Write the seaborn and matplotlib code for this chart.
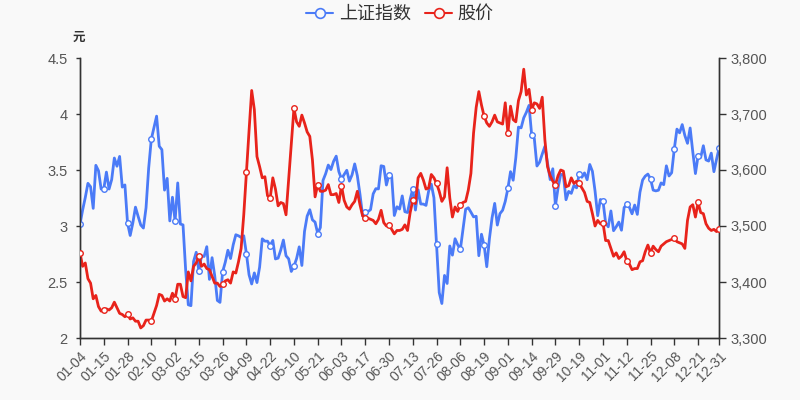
import numpy as np
import pandas as pd
import matplotlib
matplotlib.use("Agg")
import matplotlib.pyplot as plt
import seaborn as sns
from matplotlib.lines import Line2D

# ---- trading calendar (2021, Shanghai exchange closures) ----
holidays = ["2021-02-11", "2021-02-12", "2021-02-15", "2021-02-16", "2021-02-17",
            "2021-04-05", "2021-05-03", "2021-05-04", "2021-05-05", "2021-06-14",
            "2021-09-20", "2021-09-21", "2021-10-01", "2021-10-04", "2021-10-05",
            "2021-10-06", "2021-10-07"]

# ---- 上证指数 (right axis) ----
sse_jan = [3502.96, 3528.68, 3550.88, 3576.20, 3570.11, 3531.50, 3608.34, 3598.65, 3565.90, 3566.38,
           3596.22, 3566.0, 3583.0, 3621.39, 3606.75, 3624.24, 3569.43, 3573.34, 3505.18, 3483.07]
sse_feb = [3505.28, 3533.68, 3517.31, 3501.86, 3496.33, 3532.44, 3603.49, 3655.09, 3675.36, 3696.17,
           3642.44, 3636.36, 3564.08, 3585.05, 3509.08]
sse_mar = [3551.40, 3508.59, 3576.90, 3503.49, 3501.99, 3421.41, 3359.29, 3357.74, 3436.83, 3453.08,
           3419.95, 3446.73, 3445.55, 3463.07, 3404.66, 3443.44, 3411.51, 3367.06, 3363.59, 3418.33,
           3435.30, 3456.68, 3441.91]
sse_apr = [3466.33, 3484.39, 3482.48, 3479.63, 3482.55, 3450.68, 3412.95, 3396.47, 3416.21, 3398.99,
           3426.62, 3477.07, 3472.94, 3472.93, 3465.11, 3474.17, 3441.17, 3442.61, 3457.07, 3474.90,
           3446.86]
sse_may = [3441.28, 3418.87, 3427.99, 3441.85, 3462.75, 3429.54, 3490.38, 3517.62, 3529.01, 3510.96,
           3506.94, 3486.56, 3497.28, 3581.34, 3593.36, 3608.85, 3600.78, 3615.48]
sse_jun = [3624.71, 3597.14, 3584.22, 3591.84, 3599.54, 3580.11, 3591.40, 3610.86, 3589.75, 3556.56,
           3518.33, 3525.10, 3525.60, 3529.18, 3557.41, 3566.65, 3566.22, 3607.56, 3606.37, 3573.18,
           3591.20]
sse_jul = [3588.78, 3518.76, 3534.32, 3530.26, 3553.72, 3525.50, 3524.09, 3547.84, 3566.64, 3528.50,
           3564.59, 3539.30, 3539.12, 3536.79, 3562.60, 3574.73, 3550.40, 3467.44, 3381.18, 3361.59,
           3411.72, 3397.36]
sse_aug = [3464.29, 3447.99, 3477.22, 3466.56, 3458.23, 3494.63, 3529.93, 3532.62, 3524.74, 3516.30,
           3517.34, 3446.98, 3485.29, 3465.55, 3427.33, 3477.13, 3514.47, 3540.38, 3501.66, 3522.16,
           3528.15, 3543.94]
sse_sep = [3567.10, 3597.04, 3581.73, 3621.86, 3676.59, 3675.19, 3693.13, 3703.11, 3715.37, 3662.60,
           3656.22, 3607.09, 3613.97, 3628.49, 3642.22, 3613.07, 3582.83, 3602.22, 3536.29, 3568.17]
sse_oct = [3592.17, 3591.71, 3546.94, 3561.76, 3558.28, 3572.37, 3568.14, 3593.15, 3587.00, 3594.78,
           3582.60, 3609.86, 3597.64, 3562.31, 3518.42, 3547.34]
sse_nov = [3544.48, 3505.63, 3498.54, 3526.87, 3491.57, 3498.63, 3507.00, 3492.46, 3532.79, 3539.10,
           3533.30, 3521.79, 3537.37, 3520.71, 3560.37, 3582.08, 3589.09, 3592.70, 3584.18, 3564.09,
           3562.70, 3563.89]
sse_dec = [3576.89, 3573.84, 3607.43, 3589.31, 3595.09, 3637.57, 3673.04, 3666.35, 3681.08, 3661.53,
           3647.63, 3675.02, 3632.36, 3593.60, 3625.13, 3622.62, 3643.34, 3618.05, 3615.97, 3630.11,
           3597.00, 3619.19, 3639.78]

# ---- 股价 (left axis, 元) ----
px_jan = [2.76, 2.64, 2.67, 2.53, 2.49, 2.35, 2.38, 2.28, 2.24, 2.25, 2.26, 2.25, 2.27, 2.32, 2.27,
          2.22, 2.21, 2.19, 2.21, 2.17]
px_feb = [2.18, 2.15, 2.15, 2.09, 2.11, 2.16, 2.16, 2.15, 2.22, 2.29, 2.39, 2.38, 2.33, 2.35, 2.33]
px_mar = [2.40, 2.35, 2.48, 2.48, 2.37, 2.36, 2.59, 2.51, 2.64, 2.67, 2.73, 2.64, 2.66, 2.62, 2.61,
          2.55, 2.49, 2.49, 2.46, 2.48, 2.51, 2.52, 2.49]
px_apr = [2.59, 2.58, 2.68, 2.80, 3.10, 3.48, 3.85, 4.21, 4.04, 3.62, 3.53, 3.43, 3.44, 3.27, 3.25,
          3.43, 3.33, 3.18, 3.21, 3.20, 3.10]
px_may = [3.42, 3.75, 4.05, 3.93, 3.89, 3.99, 3.92, 3.84, 3.80, 3.59, 3.26, 3.37, 3.31, 3.31, 3.32,
          3.37, 3.28, 3.28]
px_jun = [3.29, 3.21, 3.36, 3.23, 3.17, 3.15, 3.19, 3.22, 3.31, 3.19, 3.09, 3.07, 3.07, 3.06, 3.05,
          3.02, 3.06, 3.14, 3.03, 3.00, 3.01]
px_jul = [2.97, 2.93, 2.96, 2.96, 2.97, 3.01, 2.96, 3.12, 3.23, 3.20, 3.43, 3.47, 3.41, 3.33, 3.34,
          3.46, 3.43, 3.38, 3.31, 3.22, 3.26, 3.52]
px_aug = [3.25, 3.08, 3.17, 3.13, 3.19, 3.21, 3.22, 3.32, 3.47, 3.83, 4.06, 4.20, 4.08, 3.98, 3.92,
          3.89, 3.93, 3.99, 3.93, 3.92, 3.91, 4.10]
px_sep = [3.83, 4.07, 3.95, 3.93, 4.12, 4.20, 4.40, 4.17, 4.22, 4.04, 4.10, 4.09, 4.05, 4.15, 3.77,
          3.53, 3.45, 3.40, 3.37, 3.45]
px_oct = [3.50, 3.49, 3.35, 3.36, 3.43, 3.38, 3.40, 3.38, 3.34, 3.30, 3.22, 3.21, 3.11, 3.00, 3.05,
          3.02]
px_nov = [3.03, 2.87, 2.87, 2.80, 2.73, 2.76, 2.71, 2.73, 2.77, 2.69, 2.66, 2.61, 2.62, 2.62, 2.68,
          2.69, 2.77, 2.83, 2.76, 2.82, 2.79, 2.77]
px_dec = [2.82, 2.84, 2.86, 2.87, 2.88, 2.89, 2.86, 2.85, 2.84, 2.80, 3.05, 3.17, 3.19, 3.08, 3.21,
          3.12, 3.11, 3.02, 2.98, 2.96, 2.97, 2.95, 2.97]

left_ticks = [2, 2.5, 3, 3.5, 4, 4.5]
left_ticklabels = ["2", "2.5", "3", "3.5", "4", "4.5"]
right_ticks = [3300, 3400, 3500, 3600, 3700, 3800]
right_ticklabels = ["3,300", "3,400", "3,500", "3,600", "3,700", "3,800"]

sse = (sse_jan + sse_feb + sse_mar + sse_apr + sse_may + sse_jun + sse_jul + sse_aug +
       sse_sep + sse_oct + sse_nov + sse_dec)
price = (px_jan + px_feb + px_mar + px_apr + px_may + px_jun + px_jul + px_aug +
         px_sep + px_oct + px_nov + px_dec)

dates = pd.bdate_range("2021-01-04", "2021-12-31")
dates = dates[~dates.isin(pd.to_datetime(holidays))]
labels = list(dates.strftime("%m-%d"))
n = len(labels)

df = pd.DataFrame({"pos": np.arange(n), "date": labels, "sse": sse, "price": price})
tick_idx = list(range(0, n, 9)) + [n - 1]
mk = df.iloc[tick_idx]

BLUE = "#4b7bf7"
RED = "#e8231b"
BG = "#f9f9f9"
AX = "#333333"
TXT = "#555555"
TICKFONT = ["Liberation Sans", "DejaVu Sans"]

sns.set_theme(style="white")
plt.rcParams["font.family"] = ["Noto Sans CJK SC", "DejaVu Sans"]

fig = plt.figure(figsize=(8, 4), dpi=100, facecolor=BG)
ax = fig.add_axes([0.1, 0.155, 0.799, 0.70])
ax2 = ax.twinx()
ax.set_zorder(ax2.get_zorder() + 1)
ax.patch.set_visible(False)
ax2.set_facecolor(BG)

sns.lineplot(data=df, x="pos", y="sse", ax=ax2, color=BLUE, lw=2)
sns.scatterplot(data=mk, x="pos", y="sse", ax=ax2, s=16, color="white",
                edgecolor=BLUE, linewidth=1, zorder=5)
sns.lineplot(data=df, x="pos", y="price", ax=ax, color=RED, lw=2)
sns.scatterplot(data=mk, x="pos", y="price", ax=ax, s=16, color="white",
                edgecolor=RED, linewidth=1, zorder=5)

ax.set_xlim(0, n - 1)
ax.set_ylim(2, 4.5)
ax2.set_ylim(3300, 3800)
ax.set_xlabel("")
ax.set_ylabel("")
ax2.set_ylabel("")

ax.set_xticks(tick_idx)
ax.set_xticklabels([labels[i] for i in tick_idx], rotation=45, ha="right",
                   rotation_mode="anchor", color=TXT, fontsize=10, family=TICKFONT)
ax.set_yticks(left_ticks)
ax.set_yticklabels(left_ticklabels, color=TXT, fontsize=10.5, family=TICKFONT)
ax2.set_yticks(right_ticks)
ax2.set_yticklabels(right_ticklabels, color=TXT, fontsize=10.5, family=TICKFONT)

ax.tick_params(axis="x", length=5, width=1, color=AX, pad=3, bottom=True)
ax.tick_params(axis="y", length=3, width=1, color=AX, pad=6, left=True)
ax2.tick_params(axis="y", length=5, width=1, color=AX, pad=3, right=True)

for a in (ax, ax2):
    a.grid(False)
    a.spines["top"].set_visible(False)
    for s in ("left", "right", "bottom"):
        a.spines[s].set_color(AX)
        a.spines[s].set_linewidth(1)

fig.text(0.098, 1 - 37 / 400, "元", ha="center", va="center", fontsize=9,
         fontweight="bold", color=AX)

handles = [
    Line2D([0], [0], color=BLUE, lw=1.5, marker="o", markersize=7,
           markerfacecolor=BG, markeredgecolor=BLUE, markeredgewidth=1.2),
    Line2D([0], [0], color=RED, lw=1.5, marker="o", markersize=7,
           markerfacecolor=BG, markeredgecolor=RED, markeredgewidth=1.2),
]
fig.legend(handles, ["上证指数", "股价"], loc="center", bbox_to_anchor=(0.5, 1 - 14 / 400),
           ncol=2, frameon=False, fontsize=13, handlelength=1.5, handletextpad=0.3,
           columnspacing=0.8, labelcolor="#333333")

fig.savefig("out.png", dpi=100, facecolor=BG)
